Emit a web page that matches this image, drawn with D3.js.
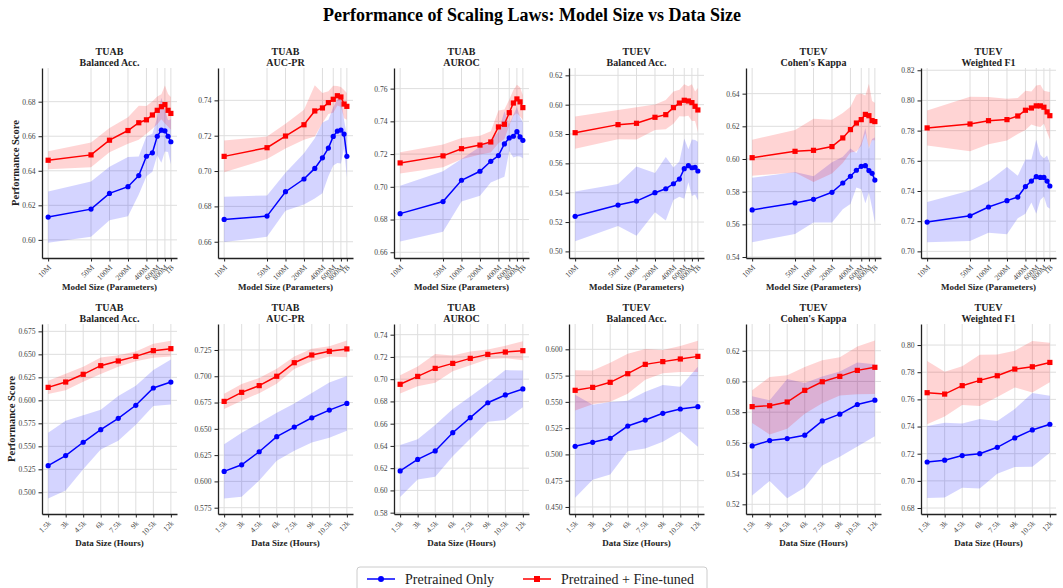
<!DOCTYPE html>
<html>
<head>
<meta charset="utf-8">
<script src="https://cdn.jsdelivr.net/npm/d3@7"></script>
<style>
  body { margin: 0; background: #fff; }
  svg, svg text { font-family: "Liberation Serif", "Times New Roman", serif; }
</style>
</head>
<body>
<svg id="chart" width="1063" height="588"></svg>
<script>
// x values
const modelSizes = [10e6, 50e6, 100e6, 200e6, 300e6, 400e6, 500e6, 600e6, 700e6, 800e6, 900e6, 1e9];
const modelTicks = [10e6, 50e6, 100e6, 200e6, 400e6, 600e6, 800e6, 1e9];
const modelTickLabels = ["10M", "50M", "100M", "200M", "400M", "600M", "800M", "1B"];
const dataHours = [1500, 3000, 4500, 6000, 7500, 9000, 10500, 12000];
const dataTickLabels = ["1.5k", "3k", "4.5k", "6k", "7.5k", "9k", "10.5k", "12k"];

const datasetNames = ["TUAB", "TUAB", "TUAB", "TUEV", "TUEV", "TUEV"];
const metricNames = ["Balanced Acc.", "AUC-PR", "AUROC", "Balanced Acc.", "Cohen's Kappa", "Weighted F1"];
const seriesNames = ["Pretrained Only", "Pretrained + Fine-tuned"];

// model size scaling (top row), one array per metric
const modelPreMean = [
  [0.6132, 0.6178, 0.6269, 0.6308, 0.6372, 0.6484, 0.6504, 0.6600, 0.6635, 0.6631, 0.6600, 0.6568],
  [0.6726, 0.6745, 0.6883, 0.6955, 0.7015, 0.7075, 0.7130, 0.7196, 0.7226, 0.7232, 0.7209, 0.7083],
  [0.6836, 0.6910, 0.7040, 0.7095, 0.7156, 0.7191, 0.7262, 0.7299, 0.7309, 0.7337, 0.7305, 0.7284],
  [0.5239, 0.5316, 0.5343, 0.5400, 0.5427, 0.5461, 0.5493, 0.5564, 0.5584, 0.5570, 0.5573, 0.5548],
  [0.5688, 0.5731, 0.5753, 0.5796, 0.5853, 0.5894, 0.5931, 0.5955, 0.5959, 0.5929, 0.5912, 0.5871],
  [0.7194, 0.7236, 0.7294, 0.7336, 0.7360, 0.7429, 0.7466, 0.7495, 0.7490, 0.7490, 0.7466, 0.7433]
];
const modelPreStd = [
  [0.0148, 0.0160, 0.0155, 0.0172, 0.0110, 0.0116, 0.0110, 0.0110, 0.0188, 0.0120, 0.0092, 0.0130],
  [0.0128, 0.0117, 0.0108, 0.0145, 0.0170, 0.0200, 0.0160, 0.0165, 0.0180, 0.0190, 0.0080, 0.0120],
  [0.0170, 0.0185, 0.0130, 0.0150, 0.0130, 0.0145, 0.0200, 0.0080, 0.0130, 0.0150, 0.0120, 0.0110],
  [0.0170, 0.0143, 0.0236, 0.0134, 0.0216, 0.0110, 0.0120, 0.0205, 0.0112, 0.0192, 0.0186, 0.0200],
  [0.0197, 0.0190, 0.0142, 0.0184, 0.0160, 0.0170, 0.0105, 0.0140, 0.0230, 0.0133, 0.0210, 0.0260],
  [0.0133, 0.0167, 0.0170, 0.0223, 0.0141, 0.0180, 0.0143, 0.0245, 0.0150, 0.0126, 0.0170, 0.0150]
];
const modelFtMean = [
  [0.6461, 0.6492, 0.6577, 0.6633, 0.6678, 0.6695, 0.6723, 0.6750, 0.6771, 0.6783, 0.6750, 0.6732],
  [0.7083, 0.7132, 0.7198, 0.7262, 0.7340, 0.7357, 0.7387, 0.7406, 0.7426, 0.7419, 0.7379, 0.7366],
  [0.7146, 0.7189, 0.7233, 0.7255, 0.7274, 0.7366, 0.7382, 0.7453, 0.7512, 0.7537, 0.7519, 0.7484],
  [0.5809, 0.5864, 0.5873, 0.5914, 0.5932, 0.5980, 0.6011, 0.6030, 0.6025, 0.6014, 0.5989, 0.5964],
  [0.6008, 0.6047, 0.6053, 0.6076, 0.6129, 0.6180, 0.6220, 0.6241, 0.6273, 0.6265, 0.6235, 0.6229],
  [0.7818, 0.7844, 0.7866, 0.7873, 0.7897, 0.7935, 0.7950, 0.7964, 0.7964, 0.7955, 0.7924, 0.7899]
];
const modelFtStd = [
  [0.0052, 0.0071, 0.0070, 0.0077, 0.0099, 0.0080, 0.0080, 0.0080, 0.0072, 0.0110, 0.0095, 0.0095],
  [0.0090, 0.0064, 0.0070, 0.0085, 0.0145, 0.0085, 0.0064, 0.0076, 0.0055, 0.0056, 0.0080, 0.0076],
  [0.0065, 0.0070, 0.0065, 0.0057, 0.0065, 0.0100, 0.0090, 0.0080, 0.0080, 0.0087, 0.0090, 0.0075],
  [0.0110, 0.0100, 0.0110, 0.0087, 0.0100, 0.0110, 0.0090, 0.0110, 0.0100, 0.0125, 0.0100, 0.0150],
  [0.0110, 0.0130, 0.0194, 0.0165, 0.0153, 0.0140, 0.0174, 0.0160, 0.0115, 0.0196, 0.0120, 0.0115],
  [0.0116, 0.0180, 0.0157, 0.0138, 0.0120, 0.0130, 0.0110, 0.0135, 0.0140, 0.0110, 0.0136, 0.0157]
];

// data size scaling (bottom row)
const dataPreMean = [
  [0.5290, 0.5399, 0.5544, 0.5681, 0.5804, 0.5946, 0.6134, 0.6199],
  [0.6095, 0.6158, 0.6282, 0.6425, 0.6517, 0.6605, 0.6678, 0.6742],
  [0.6175, 0.6279, 0.6355, 0.6519, 0.6654, 0.6788, 0.6858, 0.6912],
  [0.5077, 0.5115, 0.5153, 0.5270, 0.5327, 0.5391, 0.5432, 0.5454],
  [0.5580, 0.5615, 0.5628, 0.5650, 0.5743, 0.5787, 0.5850, 0.5878],
  [0.7139, 0.7152, 0.7186, 0.7200, 0.7247, 0.7316, 0.7375, 0.7417]
];
const dataPreStd = [
  [0.0358, 0.0380, 0.0294, 0.0217, 0.0243, 0.0212, 0.0195, 0.0245],
  [0.0258, 0.0305, 0.0273, 0.0228, 0.0225, 0.0235, 0.0263, 0.0260],
  [0.0234, 0.0180, 0.0232, 0.0212, 0.0190, 0.0170, 0.0224, 0.0165],
  [0.0490, 0.0357, 0.0345, 0.0240, 0.0270, 0.0270, 0.0213, 0.0380],
  [0.0323, 0.0263, 0.0388, 0.0340, 0.0290, 0.0278, 0.0273, 0.0234],
  [0.0265, 0.0275, 0.0237, 0.0256, 0.0194, 0.0214, 0.0272, 0.0210]
];
const dataFtMean = [
  [0.6141, 0.6199, 0.6283, 0.6377, 0.6428, 0.6478, 0.6540, 0.6562],
  [0.6761, 0.6847, 0.6911, 0.7000, 0.7129, 0.7202, 0.7237, 0.7260],
  [0.6954, 0.7025, 0.7097, 0.7142, 0.7187, 0.7223, 0.7244, 0.7256],
  [0.5610, 0.5638, 0.5686, 0.5768, 0.5857, 0.5883, 0.5908, 0.5933],
  [0.5836, 0.5842, 0.5866, 0.5942, 0.5998, 0.6033, 0.6072, 0.6092],
  [0.7649, 0.7639, 0.7701, 0.7740, 0.7774, 0.7823, 0.7840, 0.7872]
];
const dataFtStd = [
  [0.0073, 0.0090, 0.0082, 0.0090, 0.0063, 0.0054, 0.0076, 0.0085],
  [0.0072, 0.0080, 0.0072, 0.0072, 0.0060, 0.0060, 0.0048, 0.0080],
  [0.0082, 0.0088, 0.0129, 0.0070, 0.0061, 0.0043, 0.0056, 0.0086],
  [0.0192, 0.0160, 0.0186, 0.0190, 0.0146, 0.0110, 0.0124, 0.0148],
  [0.0107, 0.0187, 0.0174, 0.0152, 0.0140, 0.0125, 0.0155, 0.0174],
  [0.0233, 0.0165, 0.0142, 0.0188, 0.0156, 0.0135, 0.0190, 0.0145]
];

// axis limits and tick steps
const modelYLim = [[0.5895, 0.6995], [0.6508, 0.7583], [0.6565, 0.7726], [0.4955, 0.6250], [0.5394, 0.6557], [0.6956, 0.8215]];
const dataYLim = [[0.4764, 0.6830], [0.5690, 0.7497], [0.5788, 0.7496], [0.4433, 0.6241], [0.5137, 0.6374], [0.6756, 0.8155]];
const modelYStep = [0.02, 0.02, 0.02, 0.02, 0.02, 0.02];
const dataYStep = [0.025, 0.025, 0.02, 0.025, 0.02, 0.02];

const BLUE = "#0000ff", RED = "#ff0000";
const FONT = "'Liberation Serif', 'Times New Roman', serif";
const colLeft = [42, 218, 394, 569, 746, 921];
const rowTop = [68, 324];
const axW = 135, axH = 190;

const svg = d3.select("#chart");

svg.append("text")
  .attr("x", 532).attr("y", 21)
  .attr("text-anchor", "middle")
  .style("font-size", "18px").style("font-weight", "bold")
  .text("Performance of Scaling Laws: Model Size vs Data Size");

function drawPanel(row, col) {
  const top = row === 0;
  const g = svg.append("g").attr("transform", `translate(${colLeft[col]},${rowTop[row]})`);
  const xs = top ? modelSizes : dataHours;
  const x = top
    ? d3.scaleLog().domain([Math.pow(10, 6.9), Math.pow(10, 9.1)]).range([0, axW])
    : d3.scaleLinear().domain([1500 - 525, 12000 + 525]).range([0, axW]);
  const tickVals = top ? modelTicks : dataHours;
  const tickLabels = top ? modelTickLabels : dataTickLabels;
  const ylim = top ? modelYLim[col] : dataYLim[col];
  const step = top ? modelYStep[col] : dataYStep[col];
  const y = d3.scaleLinear().domain(ylim).range([axH, 0]);

  const yt = [];
  for (let k = Math.ceil(ylim[0] / step - 1e-9); k * step <= ylim[1] + 1e-9; k++) yt.push(+(k * step).toFixed(4));
  const dec = step === 0.025 ? 3 : 2;

  // grid
  g.append("g").selectAll("line").data(yt).enter().append("line")
    .attr("x1", 0).attr("x2", axW)
    .attr("y1", d => y(d)).attr("y2", d => y(d))
    .attr("stroke", "#dedede").attr("stroke-width", 1);
  g.append("g").selectAll("line").data(tickVals).enter().append("line")
    .attr("y1", 0).attr("y2", axH)
    .attr("x1", d => x(d)).attr("x2", d => x(d))
    .attr("stroke", "#dedede").attr("stroke-width", 1);

  const series = top
    ? [[modelPreMean[col], modelPreStd[col], BLUE], [modelFtMean[col], modelFtStd[col], RED]]
    : [[dataPreMean[col], dataPreStd[col], BLUE], [dataFtMean[col], dataFtStd[col], RED]];

  series.forEach(([mean, sd, color]) => {
    const pts = xs.map((v, i) => ({ x: v, m: mean[i], s: sd[i] }));
    g.append("path").datum(pts)
      .attr("fill", color).attr("fill-opacity", 0.17)
      .attr("d", d3.area().x(d => x(d.x)).y0(d => y(d.m - d.s)).y1(d => y(d.m + d.s)));
  });

  series.forEach(([mean, sd, color]) => {
    const pts = xs.map((v, i) => ({ x: v, m: mean[i] }));
    g.append("path").datum(pts)
      .attr("fill", "none").attr("stroke", color).attr("stroke-width", 1.5)
      .attr("d", d3.line().x(d => x(d.x)).y(d => y(d.m)));
    if (color === BLUE) {
      g.append("g").selectAll("circle").data(pts).enter().append("circle")
        .attr("cx", d => x(d.x)).attr("cy", d => y(d.m)).attr("r", 2.6)
        .attr("fill", color);
    } else {
      g.append("g").selectAll("rect").data(pts).enter().append("rect")
        .attr("x", d => x(d.x) - 2.6).attr("y", d => y(d.m) - 2.6)
        .attr("width", 5.2).attr("height", 5.2)
        .attr("fill", color);
    }
  });

  // axes
  const ya = g.append("g")
    .call(d3.axisLeft(y).tickValues(yt).tickFormat(d3.format(`.${dec}f`)).tickSize(3.5).tickSizeOuter(0).tickPadding(3));
  const xa = g.append("g").attr("transform", `translate(0,${axH})`)
    .call(d3.axisBottom(x).tickValues(tickVals).tickFormat((d, i) => tickLabels[i]).tickSize(3.5).tickSizeOuter(0));
  [ya, xa].forEach(a => {
    a.attr("font-family", FONT).attr("font-size", 7.6);
    a.select(".domain").attr("stroke", "#222").attr("stroke-width", 1.3);
    a.selectAll(".tick line").attr("stroke", "#222").attr("stroke-width", 1);
    a.selectAll("text").attr("fill", "#444");
  });
  xa.selectAll("text")
    .attr("x", 0).attr("y", 0).attr("dy", "0.35em")
    .attr("text-anchor", "end")
    .attr("transform", "translate(1,8) rotate(-45)");

  // titles
  g.append("text").attr("x", axW / 2).attr("y", -13).attr("text-anchor", "middle")
    .style("font-size", "10px").style("font-weight", "bold").attr("fill", "#222")
    .text(datasetNames[col]);
  g.append("text").attr("x", axW / 2).attr("y", -2.5).attr("text-anchor", "middle")
    .style("font-size", "10px").style("font-weight", "bold").attr("fill", "#222")
    .text(metricNames[col]);

  g.append("text").attr("x", axW / 2).attr("y", axH + 32).attr("text-anchor", "middle")
    .style("font-size", "9px").style("font-weight", "bold").attr("fill", "#222")
    .text(top ? "Model Size (Parameters)" : "Data Size (Hours)");

  if (col === 0) {
    g.append("text")
      .attr("transform", `translate(${(top ? 15 : 11) - colLeft[0]},${axH / 2}) rotate(-90)`)
      .attr("text-anchor", "middle").attr("dy", "0.35em")
      .style("font-size", "10.5px").style("font-weight", "bold").attr("fill", "#222")
      .text("Performance Score");
  }
}

for (let r = 0; r < 2; r++) for (let c = 0; c < 6; c++) drawPanel(r, c);

// legend
const lg = svg.append("g").attr("transform", "translate(357,567)");
lg.append("rect").attr("x", 0).attr("y", 0).attr("width", 350).attr("height", 30).attr("rx", 3)
  .attr("fill", "#fff").attr("stroke", "#ccc").attr("stroke-width", 1);
const lx = [10, 166];
seriesNames.forEach((name, i) => {
  const color = i === 0 ? BLUE : RED;
  const it = lg.append("g").attr("transform", `translate(${lx[i]},12)`);
  it.append("line").attr("x1", 0).attr("x2", 28).attr("stroke", color).attr("stroke-width", 1.5);
  if (i === 0) it.append("circle").attr("cx", 14).attr("r", 3).attr("fill", color);
  else it.append("rect").attr("x", 11).attr("y", -3).attr("width", 6).attr("height", 6).attr("fill", color);
  it.append("text").attr("x", 38).attr("dy", "0.35em").style("font-size", "14px").attr("fill", "#222").text(name);
});
</script>
</body>
</html>
